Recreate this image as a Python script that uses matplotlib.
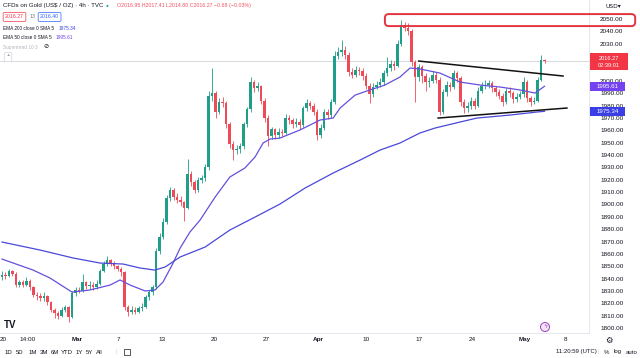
import matplotlib
matplotlib.use("Agg")
import matplotlib.pyplot as plt
from matplotlib.patches import Rectangle, FancyBboxPatch, Ellipse
import numpy as np

plt.rcParams['font.family'] = ['Liberation Sans', 'DejaVu Sans']

# ---------------- data ----------------
first_open = 1841
closes = [1843,1842,1846,1844,1835,1837,1835,1838,1833,1827,
          1826,1824,1826,1821,1815,1812,1810,1815,1817,1809,
          1828,1831,1830,1837,1834,1835,1833,1836,1846,1852,
          1855,1853,1850,1848,1845,1817,1813,1815,1813,1816,
          1817,1825,1829,1833,1862,1874,1886,1905,1912,1906,
          1904,1902,1897,1925,1918,1912,1920,1921,1930,1988,
          1990,1975,1983,1982,1965,1949,1944,1945,1947,1965,
          1977,1999,1994,1996,1984,1970,1955,1961,1956,1959,
          1958,1970,1968,1965,1967,1964,1978,1982,1980,1975,
          1956,1962,1975,1972,1983,2020,2023,2025,2021,2007,
          2005,2009,2008,2004,1996,1989,1995,1997,1999,2006,
          2010,2014,2012,2030,2045,2043,2040,2015,2003,2011,
          2004,1999,2000,2005,2001,1975,1991,1997,1995,2006,
          2002,1983,1978,1980,1984,1980,1992,1996,1997,1998,
          1994,1991,1988,1983,1992,1990,1985,1987,1989,1999,
          1986,1983,1984,2001,2016.95,2016.27]
highs = [1846,1845,1848,1847,1845,1839,1839,1841,1840,1834,
         1829,1828,1829,1827,1822,1816,1814,1817,1819,1818,
         1830,1833,1833,1844,1838,1838,1837,1839,1848,1854,
         1858,1856,1854,1851,1849,1846,1819,1818,1817,1818,
         1820,1827,1831,1835,1865,1877,1889,1908,1914,1913,
         1909,1907,1903,1937,1927,1920,1922,1924,1933,1992,
         2010,1992,1986,1987,1984,1967,1951,1948,1950,1967,
         1979,2003,2001,1999,1997,1986,1972,1963,1962,1962,
         1961,1973,1972,1970,1970,1969,1980,1985,1984,1982,
         1977,1965,1977,1977,1985,2024,2027,2033,2028,2023,
         2010,2012,2011,2010,2006,1998,1998,2000,2002,2009,
         2019,2017,2016,2033,2049,2048,2047,2042,2017,2014,
         2013,2006,2003,2008,2007,2003,1993,2000,1999,2009,
         2008,2004,1985,1983,1987,1986,1995,1999,2001,2001,
         2000,1996,1993,1990,1994,1995,1992,1990,1992,2003,
         2001,1988,1987,2003,2021,2017.41]
lows = [1839,1840,1841,1842,1833,1833,1833,1834,1831,1825,
        1823,1822,1822,1819,1813,1808,1807,1809,1813,1805,
        1808,1826,1828,1829,1832,1832,1831,1832,1835,1845,
        1850,1850,1848,1846,1842,1815,1810,1811,1811,1812,
        1814,1816,1823,1827,1832,1860,1872,1884,1903,1904,
        1901,1899,1887,1896,1915,1909,1910,1917,1919,1928,
        1984,1970,1973,1979,1962,1946,1936,1941,1942,1945,
        1963,1975,1991,1992,1981,1967,1947,1953,1953,1954,
        1955,1957,1965,1962,1963,1961,1963,1976,1977,1972,
        1952,1954,1960,1969,1970,1981,2018,2020,2018,2004,
        2002,2003,2005,2001,1993,1982,1987,1993,1995,1997,
        2004,2008,2009,2011,2028,2040,2037,2012,1983,2000,
        1998,1992,1995,1998,1998,1972,1973,1988,1992,1993,
        1999,1980,1974,1975,1977,1977,1979,1990,1993,1994,
        1991,1988,1985,1980,1981,1987,1982,1983,1985,1987,
        1983,1980,1981,1983,2000,2014.80]

ema50_idx = [0,8.9,13.7,20.0,25.1,30.9,33.7,36.6,40.9,43.7,46.0,48.6,50.9,53.7,56.6,60.9,65.1,69.4,
             72.3,74.6,76.6,79.4,85.1,90.9,94.6,96.6,100.9,105.1,109.4,113.7,116.6,119.4,125.1,
             130.9,136.6,142.3,148.0,152.3,155.0]
ema50_val = [1855.8,1846.9,1840.5,1829.1,1830.8,1834.8,1838.9,1834.8,1830.0,1830.8,1837.2,1851.0,
             1864.7,1877.7,1887.4,1906.0,1922.2,1929.5,1938.4,1949.7,1952.9,1953.7,1960.2,1968.3,
             1969.9,1978.0,1988.5,1992.6,1996.6,2003.1,2010.4,2009.6,2006.3,1999.0,1996.6,1995.0,
             1992.6,1990.1,1995.61]
ema200_idx = [0,10.9,20.3,28.0,34.6,39.4,43.7,46.6,50.9,58.0,65.1,72.3,79.4,86.6,94.6,102.3,108.0,
              113.7,119.4,123.7,130.9,135.7,145.1,152.9,155.0]
ema200_val = [1869.6,1863.1,1856.7,1852.6,1851.8,1848.6,1846.9,1849.4,1857.5,1865.5,1879.3,1889.8,
              1900.3,1913.3,1925.4,1935.9,1944.0,1949.7,1957.8,1961.8,1966.7,1969.9,1972.3,1974.8,1975.34]

trend_upper_idx = [119.1, 160.3]
trend_upper_val = [2016.0, 2003.9]
trend_lower_idx = [124.6, 161.4]
trend_lower_val = [1969.9, 1978.0]
zone_idx = [109.4, 180.9]
zone_val = [2044.3, 2054.0]

time_labels = ["20", "14:00", "Mar", "7", "13", "20", "27", "Apr", "10", "17", "24", "May", "8"]
time_pos = [0.3, 7.4, 21.4, 33.4, 45.7, 60.6, 75.4, 90.3, 104.0, 119.1, 134.3, 149.4, 161.1]
price_ticks = list(range(1800, 2051, 10))
hidden_price_ticks = [2010, 2020]   # covered by the current-price label

last_price = 2016.27
ema50_last = 1995.61
ema200_last = 1975.34

# ---------------- figure ----------------
W, H = 640, 358
fig = plt.figure(figsize=(W / 100, H / 100), dpi=100)
fig.patch.set_facecolor('white')
ax = fig.add_axes([0, 25 / H, 589 / W, 333 / H])
ax.set_facecolor('white')
ax.set_xlim(-0.571, 167.71)
ax.set_ylim(1796.0, 2065.4)

UP, DN = '#1f9e89', '#ef4a57'
opens = [first_open] + closes[:-1]
idx = np.arange(len(closes))
o = np.array(opens, float); c = np.array(closes, float)
hi = np.array(highs, float); lo = np.array(lows, float)
cols = [UP if cc >= oo else DN for oo, cc in zip(o, c)]
ax.vlines(idx, lo, hi, colors=cols, linewidth=0.6, zorder=3)
body_bot = np.minimum(o, c)
body_h = np.maximum(np.abs(c - o), 0.7)
ax.bar(idx, body_h, bottom=body_bot, width=0.62, color=cols, linewidth=0, zorder=4)

ax.plot(ema50_idx, ema50_val, color='#6450dc', lw=0.9, zorder=5)
ax.plot(ema200_idx, ema200_val, color='#4a48d8', lw=0.9, zorder=5)

ax.axhline(last_price, color='#cfd2d8', lw=0.6, zorder=2)

ax.plot(trend_upper_idx, trend_upper_val, color='#111111', lw=1.1, zorder=6)
ax.plot(trend_lower_idx, trend_lower_val, color='#111111', lw=1.1, zorder=6)

zone = FancyBboxPatch((zone_idx[0], zone_val[0]), zone_idx[1] - zone_idx[0], zone_val[1] - zone_val[0],
                      boxstyle='round,pad=0,rounding_size=1.1', mutation_aspect=2.83,
                      fill=False, edgecolor='#e3343f', lw=1.4, clip_on=False, zorder=7)
ax.add_patch(zone)

# axes styling
for s in ['top', 'left']:
    ax.spines[s].set_visible(False)
ax.spines['right'].set_color('#e0e3eb'); ax.spines['right'].set_linewidth(0.6)
ax.spines['bottom'].set_color('#e0e3eb'); ax.spines['bottom'].set_linewidth(0.6)
ax.yaxis.tick_right()
ax.set_yticks(price_ticks)
ax.set_yticklabels(["" if p in hidden_price_ticks else f"{p:.2f}" for p in price_ticks])
ax.tick_params(axis='y', length=0, pad=8, labelsize=4.6, labelcolor='#131722')
ax.set_xticks(time_pos)
ax.set_xticklabels(time_labels)
ax.tick_params(axis='x', length=0, pad=3, labelsize=4.6, labelcolor='#131722')
for lab in ax.get_xticklabels():
    if lab.get_text() in ('Mar', 'Apr', 'May'):
        lab.set_fontweight('bold')


def fy(price):
    return ax.transData.transform((0, price))[1] / H


def ft(x, y, s, **kw):
    kw.setdefault('va', 'center')
    return fig.text(x / W, 1 - y / H, s, **kw)


# price-scale highlighted labels
yc = fy(last_price)
fig.add_artist(Rectangle((590 / W, yc - 9.6 / H), 38 / W, 17.4 / H, transform=fig.transFigure,
                         facecolor='#f23645', edgecolor='none', zorder=10))
fig.text(609 / W, yc + 2.4 / H, f"{last_price:.2f}", color='white', fontsize=4.1, ha='center', va='center', zorder=11)
fig.text(609 / W, yc - 5.0 / H, "02:39:01", color='white', fontsize=4.1, ha='center', va='center', zorder=11)
for val, colr in [(ema50_last, '#7442f0'), (ema200_last, '#3a3ee6')]:
    yy = fy(val)
    fig.add_artist(Rectangle((590 / W, yy - 4.5 / H), 35 / W, 9 / H, transform=fig.transFigure,
                             facecolor=colr, edgecolor='none', zorder=10))
    fig.text(607.5 / W, yy, f"{val:.2f}", color='white', fontsize=4.4, ha='center', va='center', zorder=11)

# header
ft(3, 6, "CFDs on Gold (US$ / OZ) · 4h · TVC", fontsize=4.4, color='#131722')
ft(107, 5.5, "●", fontsize=3.5, color='#22ab94', ha='center')
ft(117, 6, "O2016.95 H2017.41 L2014.80 C2016.27 −0.68 (−0.03%)", fontsize=3.8, color='#f0535f')
ft(5, 17, "2016.27", fontsize=3.8, color='#f23645',
   bbox=dict(boxstyle='round,pad=0.35,rounding_size=0.2', fc='white', ec='#f23645', lw=0.5))
ft(30, 17, "13", fontsize=3.8, color='#787b86')
ft(40, 17, "2016.40", fontsize=3.8, color='#2962ff',
   bbox=dict(boxstyle='round,pad=0.35,rounding_size=0.2', fc='white', ec='#2962ff', lw=0.5))
ft(3, 28, "EMA 200 close 0 SMA 5", fontsize=3.4, color='#131722')
ft(59, 28, f"{ema200_last:.2f}", fontsize=3.4, color='#3a3ee6')
ft(3, 37.5, "EMA 50 close 0 SMA 5", fontsize=3.4, color='#131722')
ft(56, 37.5, f"{ema50_last:.2f}", fontsize=3.4, color='#7442f0')
ft(3, 47, "Supertrend 10 3", fontsize=3.4, color='#b2b5be')
ft(43, 47, "⊘", fontsize=4.5, color='#131722', family='DejaVu Sans')
ft(8, 57, "˄", fontsize=4.5, color='#131722', ha='center', family='DejaVu Sans',
   bbox=dict(boxstyle='round,pad=0.35,rounding_size=0.3', fc='white', ec='#d1d4dc', lw=0.5))
ft(606, 6, "USD▾", fontsize=4.3, color='#131722', family='DejaVu Sans')

# bottom area
ft(4, 325, "TV", fontsize=7, color='#131722', fontweight='bold')
fig.add_artist(Ellipse((545 / W, 1 - 327 / H), 9 / W, 9 / H, transform=fig.transFigure,
                       facecolor='#f3e5f5', edgecolor='#a23ec4', lw=0.7, zorder=10))
ft(545, 327, "ϟ", fontsize=4.5, color='#a23ec4', ha='center', family='DejaVu Sans', zorder=11)
ft(609, 340, "⚙", fontsize=6, color='#131722', ha='center', family='DejaVu Sans')

for lbl, x in [("1D", 5), ("5D", 16), ("1M", 29), ("3M", 40), ("6M", 51), ("YTD", 61),
               ("1Y", 76), ("5Y", 86), ("All", 96)]:
    ft(x, 352, lbl, fontsize=4.3, color='#131722')
ft(116, 352, "|", fontsize=4.3, color='#d1d4dc')
fig.add_artist(Rectangle((124 / W, 1 - 355 / H), 6 / W, 6 / H, transform=fig.transFigure,
                         fill=False, edgecolor='#131722', lw=0.5))
ft(556, 352, "11:20:59 (UTC)", fontsize=4.3, color='#131722')
ft(598, 352, "|", fontsize=4.3, color='#d1d4dc')
ft(604, 352, "%", fontsize=4.3, color='#131722')
ft(614, 352, "log", fontsize=4.3, color='#131722')
ft(626, 352, "auto", fontsize=4.3, color='#131722')

fig.savefig("out.png", dpi=100, facecolor='white')
